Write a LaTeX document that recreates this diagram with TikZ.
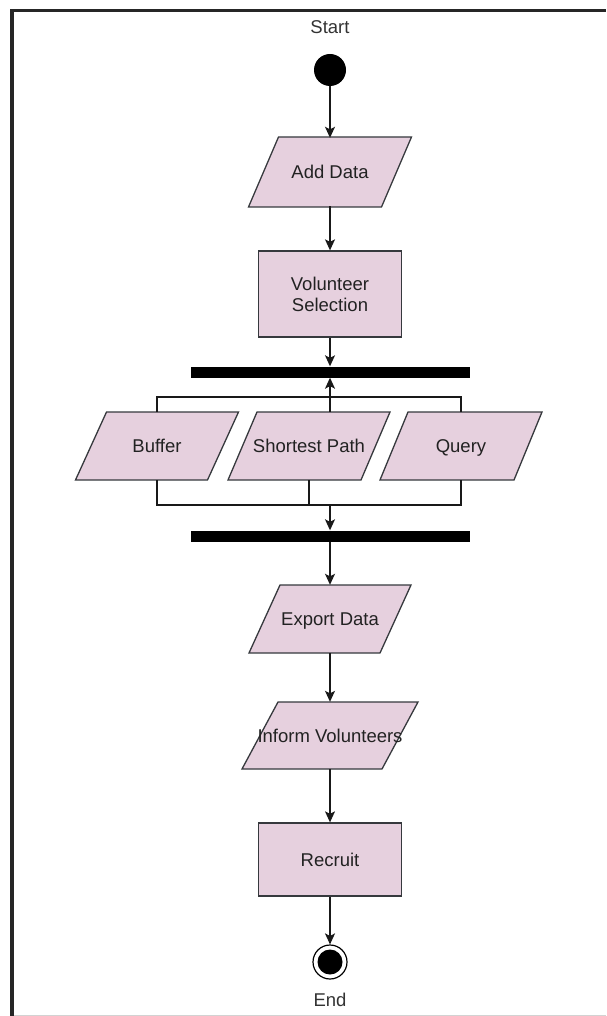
\documentclass[tikz,border=0pt]{standalone}
\usepackage{fontspec}
\setmainfont{Liberation Sans}
\usetikzlibrary{arrows.meta,backgrounds,calc}
\definecolor{boxfill}{HTML}{E6D0DE}
\definecolor{boxline}{HTML}{36393D}
\definecolor{txt}{HTML}{222222}
\definecolor{lbltxt}{HTML}{333333}
\tikzset{
  lbl/.style={font=\fontsize{18.5}{21}\selectfont, text=txt, inner sep=0pt},
  rectbox/.style={lbl, draw=boxline, fill=boxfill, line width=1.3pt, align=center},
  parabox/.style={lbl, minimum height=68pt, minimum width=20pt, text height=16.8pt, text depth=3.5pt},
  parashape/.style={draw=boxline, fill=boxfill, line width=1.3pt, line join=miter},
  forkbar/.style={fill=black, minimum width=279pt, minimum height=11pt, inner sep=0pt},
  conn/.style={line width=1.3pt, draw=black!90},
  arr/.style={conn, -{Stealth[length=11pt,width=10pt,inset=2.5pt]}},
}
% name, width of edge, height, slant
\newcommand\drawpara[4]{%
  \draw[parashape]
    ([shift={(-#2/2+#4/2,-#3/2)}]#1.center) --
    ([shift={(#2/2+#4/2,-#3/2)}]#1.center) --
    ([shift={(#2/2-#4/2,#3/2)}]#1.center) --
    ([shift={(-#2/2-#4/2,#3/2)}]#1.center) -- cycle;}
\begin{document}
\begin{tikzpicture}[x=1pt,y=-1pt]
\useasboundingbox (0,0) rectangle (606,1016);
% frame
\draw[line width=3.5pt, black!85] (12,1016) -- (12,10.5) -- (606,10.5);
\draw[gray!35, line width=1pt] (14,1015) -- (606,1015);

% nodes
\node[lbl, text=lbltxt] (startlbl) at (330,27) {Start};
\node[circle, fill=black, minimum size=32pt, inner sep=0pt] (start) at (330,70) {};
\node[parabox] (add) at (330,172) {Add Data};
\node[rectbox, minimum width=143pt, minimum height=86pt] (vs) at (330,294) {Volunteer\\Selection};
\node[forkbar] (bar1) at (330,372) {};
\node[parabox] (buffer) at (157,446) {Buffer};
\node[parabox] (sp) at (309,446) {Shortest Path};
\node[parabox] (query) at (461,446) {Query};
\node[forkbar] (bar2) at (330,536) {};
\node[parabox] (export) at (330,619) {Export Data};
\node[parabox, minimum height=67pt] (inform) at (330,735.5) {Inform Volunteers};
\node[rectbox, minimum width=143pt, minimum height=73pt] (recruit) at (330,859.5) {Recruit};
\node[circle, draw=black, line width=1.2pt, minimum size=34pt, inner sep=0pt] (endc) at (330,962) {};
\fill[black] (endc.center) circle (12.5pt);
\node[lbl, text=lbltxt] (endlbl) at (330,1000) {End};

\coordinate (jt) at (330,397);
\coordinate (jb) at (330,505);

\begin{scope}[on background layer]
  \drawpara{add}{133}{70}{30}
  \drawpara{buffer}{132}{68}{31}
  \drawpara{sp}{133}{68}{29}
  \drawpara{query}{134}{68}{28}
  \drawpara{export}{131}{68}{31}
  \drawpara{inform}{140}{67}{36}
\end{scope}

% connectors
\draw[arr] (start) -- (add);
\draw[arr] (add) -- (vs);
\draw[arr] (vs) -- (bar1);
\draw[conn] (buffer.north) |- (jt) -| (query.north);
\draw[conn] (sp.north -| jt) -- (jt);
\draw[arr] (jt) -- (bar1);
\draw[conn] (buffer.south) |- (jb) -| (query.south);
\draw[conn] (sp.south) -- (sp.south |- jb);
\draw[arr] (jb) -- (bar2);
\draw[arr] (bar2) -- (export);
\draw[arr] (export) -- (inform);
\draw[arr] (inform) -- (recruit);
\draw[arr] (recruit) -- (endc);
\end{tikzpicture}
\end{document}
